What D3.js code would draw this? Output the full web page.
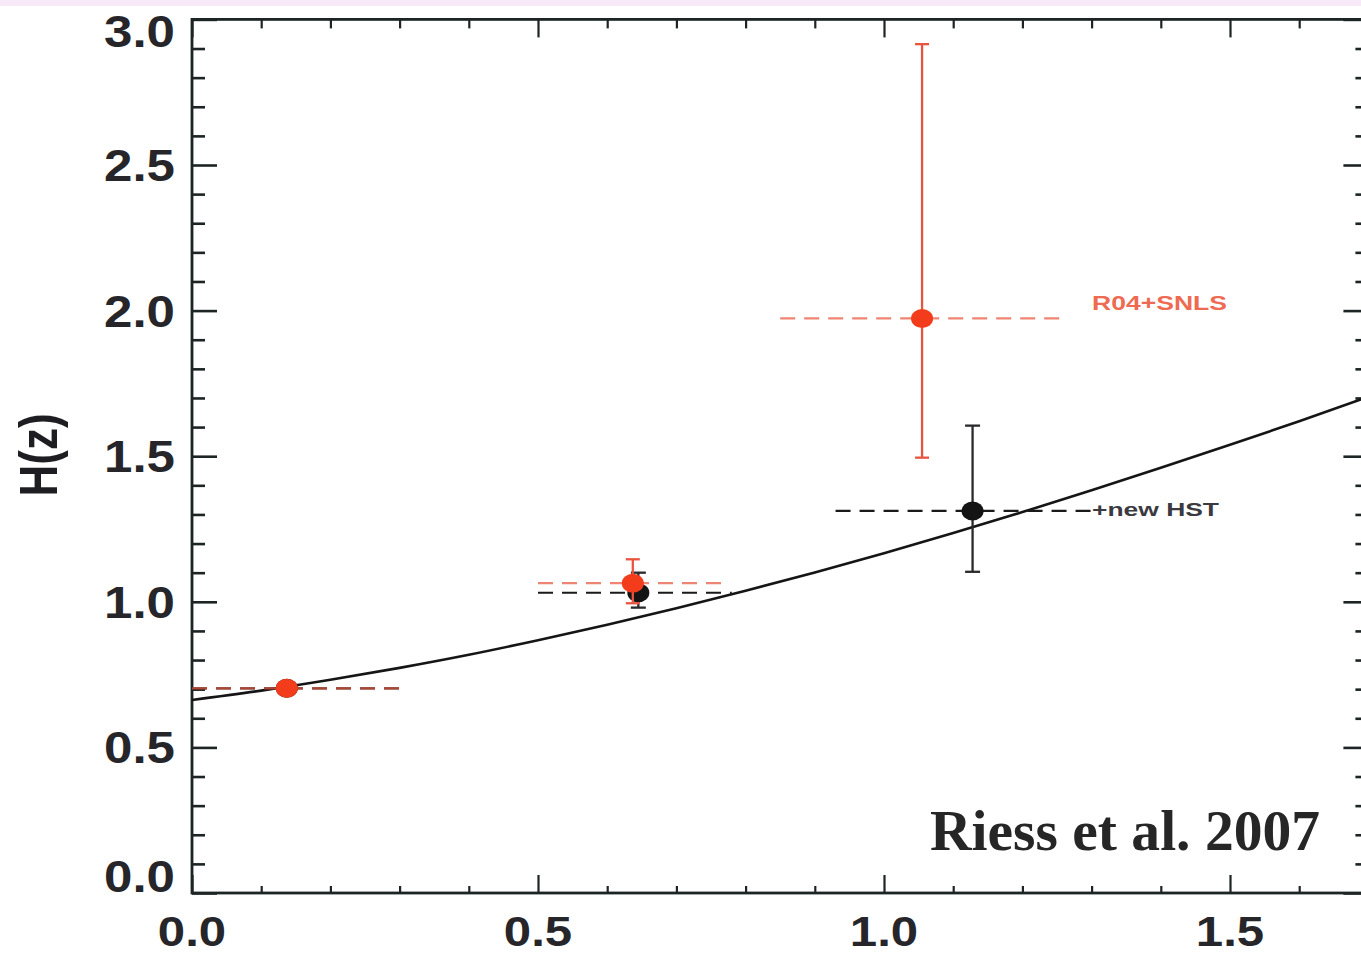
<!DOCTYPE html>
<html>
<head>
<meta charset="utf-8">
<script src="https://cdn.jsdelivr.net/npm/d3@7/dist/d3.min.js"></script>
<style>
  html, body { margin: 0; padding: 0; background: #ffffff; }
  svg { display: block; }
</style>
</head>
<body>
<svg id="chart" width="1361" height="957"></svg>
<script>
// Axis ticks and labels
const zMajor = [0, 0.5, 1.0, 1.5];
const zMinor = [0.1, 0.2, 0.3, 0.4, 0.6, 0.7, 0.8, 0.9, 1.1, 1.2, 1.3, 1.4, 1.6];
const hMajor = [0, 0.5, 1.0, 1.5, 2.0, 2.5, 3.0];
const hMinor = [0.1, 0.2, 0.3, 0.4, 0.6, 0.7, 0.8, 0.9, 1.1, 1.2, 1.3, 1.4,
                1.6, 1.7, 1.8, 1.9, 2.1, 2.2, 2.3, 2.4, 2.6, 2.7, 2.8, 2.9];

// Model expansion history H(z)
const modelZ = [0, 0.1, 0.2, 0.3, 0.4, 0.5, 0.6, 0.7, 0.8, 0.9, 1.0, 1.1, 1.2, 1.3, 1.4, 1.5, 1.6, 1.7];
const modelH = [0.663, 0.695, 0.732, 0.773, 0.818, 0.868, 0.921, 0.978, 1.038, 1.101,
                1.167, 1.236, 1.308, 1.383, 1.460, 1.539, 1.620, 1.704];

// "+new HST" binned measurements (black)
const hstZ    = [0.137, 0.645, 1.128];
const hstH    = [0.703, 1.031, 1.312];
const hstLo   = [0.703, 0.980, 1.103];
const hstHi   = [0.703, 1.100, 1.605];
const hstBinLo = [0.0, 0.50, 0.93];
const hstBinHi = [0.30, 0.78, 1.31];

// "R04+SNLS" binned measurements (red)
const snlsZ    = [0.137, 0.637, 1.055];
const snlsH    = [0.703, 1.064, 1.973];
const snlsLo   = [0.703, 0.995, 1.495];
const snlsHi   = [0.703, 1.146, 2.915];
const snlsBinLo = [0.0, 0.50, 0.85];
const snlsBinHi = [0.30, 0.775, 1.262];

const svg = d3.select("#chart");
const W = 1361, H = 957;

const x = d3.scaleLinear().domain([0, 1.7]).range([192, 1368.4]);
const y = d3.scaleLinear().domain([0, 3]).range([893, 19.4]);

const axisColor = "#1d2424";
const red = "#f23c1c";
const redLine = "#e9543f";
const redText = "#ef6a52";

// faint band along the top edge
svg.append("rect").attr("x", 0).attr("y", 0).attr("width", W).attr("height", 6)
  .attr("fill", "#f7e9f7");

// plot area
svg.append("rect")
  .attr("x", x(0)).attr("y", y(3))
  .attr("width", x(1.7) - x(0)).attr("height", y(0) - y(3))
  .attr("fill", "#ffffff");

const axes = svg.append("g");

function styleAxis(g, width) {
  g.select(".domain").remove();
  g.selectAll(".tick line").attr("stroke", axisColor).attr("stroke-width", width);
  g.selectAll(".tick text").remove();
}

// bottom axis (inward ticks)
axes.append("g").attr("transform", `translate(0,${y(0)})`)
  .call(d3.axisBottom(x).tickValues(zMajor).tickSizeInner(-18).tickSizeOuter(0))
  .call(g => styleAxis(g, 2.2));
axes.append("g").attr("transform", `translate(0,${y(0)})`)
  .call(d3.axisBottom(x).tickValues(zMinor).tickSizeInner(-7).tickSizeOuter(0))
  .call(g => styleAxis(g, 2.2));
// top axis
axes.append("g").attr("transform", `translate(0,${y(3)})`)
  .call(d3.axisTop(x).tickValues(zMajor).tickSizeInner(-18).tickSizeOuter(0))
  .call(g => styleAxis(g, 2.2));
axes.append("g").attr("transform", `translate(0,${y(3)})`)
  .call(d3.axisTop(x).tickValues(zMinor).tickSizeInner(-9).tickSizeOuter(0))
  .call(g => styleAxis(g, 2.2));
// left axis
axes.append("g").attr("transform", `translate(${x(0)},0)`)
  .call(d3.axisLeft(y).tickValues(hMajor).tickSizeInner(-25).tickSizeOuter(0))
  .call(g => styleAxis(g, 2.6));
axes.append("g").attr("transform", `translate(${x(0)},0)`)
  .call(d3.axisLeft(y).tickValues(hMinor).tickSizeInner(-13).tickSizeOuter(0))
  .call(g => styleAxis(g, 2.6));
// right axis
axes.append("g").attr("transform", `translate(${x(1.7)},0)`)
  .call(d3.axisRight(y).tickValues(hMajor).tickSizeInner(-25).tickSizeOuter(0))
  .call(g => styleAxis(g, 2.6));
axes.append("g").attr("transform", `translate(${x(1.7)},0)`)
  .call(d3.axisRight(y).tickValues(hMinor).tickSizeInner(-13).tickSizeOuter(0))
  .call(g => styleAxis(g, 2.6));

// frame
svg.append("rect")
  .attr("x", x(0)).attr("y", y(3))
  .attr("width", x(1.7) - x(0)).attr("height", y(0) - y(3))
  .attr("fill", "none").attr("stroke", axisColor).attr("stroke-width", 2.8);

// tick labels
const fmt = d3.format(".1f");
const labelFont = "'Liberation Sans', Arial, Helvetica, sans-serif";

svg.append("g").selectAll("g").data(hMajor).join("g")
  .attr("transform", d => {
    const cy = Math.max(y(3) + 12, Math.min(y(0) - 17, y(d)));
    return `translate(175,${cy + 16}) scale(1.16,1)`;
  })
  .append("text")
  .attr("text-anchor", "end")
  .attr("font-family", labelFont).attr("font-weight", "bold").attr("font-size", 44)
  .attr("fill", "#26262a")
  .text(d => fmt(d));

svg.append("g").selectAll("g").data(zMajor).join("g")
  .attr("transform", d => `translate(${x(d)},946) scale(1.17,1)`)
  .append("text")
  .attr("text-anchor", "middle")
  .attr("font-family", labelFont).attr("font-weight", "bold").attr("font-size", 42)
  .attr("fill", "#26262a")
  .text(d => fmt(d));

// axis title
svg.append("g").attr("transform", "translate(57,455) scale(1.2,1) rotate(-90)")
  .append("text")
  .attr("text-anchor", "middle")
  .attr("font-family", labelFont).attr("font-weight", "bold").attr("font-size", 44)
  .attr("fill", "#1e1e22")
  .text("H(z)");

// model curve
const modelPts = modelZ.map((z, i) => [z, modelH[i]]);
svg.append("path")
  .datum(modelPts)
  .attr("fill", "none").attr("stroke", "#151515").attr("stroke-width", 2.6)
  .attr("d", d3.line().x(d => x(d[0])).y(d => y(d[1])).curve(d3.curveMonotoneX));

function drawSeries(zs, hs, lo, hi, bLo, bHi, opts) {
  const g = svg.append("g");
  const idx = d3.range(zs.length);
  // redshift bins
  g.selectAll("line.bin").data(idx).join("line").attr("class", "bin")
    .attr("x1", i => x(bLo[i])).attr("x2", i => x(bHi[i]))
    .attr("y1", i => y(hs[i])).attr("y2", i => y(hs[i]))
    .attr("stroke", opts.dash).attr("stroke-width", 2.2)
    .attr("stroke-opacity", opts.dashOpacity)
    .attr("stroke-dasharray", "15,9");
  // vertical error bars
  const withErr = idx.filter(i => hi[i] > lo[i]);
  g.selectAll("line.err").data(withErr).join("line").attr("class", "err")
    .attr("x1", i => x(zs[i])).attr("x2", i => x(zs[i]))
    .attr("y1", i => y(lo[i])).attr("y2", i => y(hi[i]))
    .attr("stroke", opts.err).attr("stroke-width", 2.3);
  ["lo", "hi"].forEach(k => {
    g.selectAll("line.cap" + k).data(withErr).join("line").attr("class", "cap" + k)
      .attr("x1", i => x(zs[i]) - opts.cap).attr("x2", i => x(zs[i]) + opts.cap)
      .attr("y1", i => y(k === "lo" ? lo[i] : hi[i]))
      .attr("y2", i => y(k === "lo" ? lo[i] : hi[i]))
      .attr("stroke", opts.err).attr("stroke-width", 2.3);
  });
  // points
  g.selectAll("ellipse").data(idx).join("ellipse")
    .attr("cx", i => x(zs[i])).attr("cy", i => y(hs[i]))
    .attr("rx", 11).attr("ry", 9.5)
    .attr("fill", opts.dot);
}

drawSeries(hstZ, hstH, hstLo, hstHi, hstBinLo, hstBinHi,
  { dash: "#1a1a1a", dashOpacity: 1, err: "#2a2a2e", dot: "#141414", cap: 7.5 });
drawSeries(snlsZ, snlsH, snlsLo, snlsHi, snlsBinLo, snlsBinHi,
  { dash: "#e8553c", dashOpacity: 0.72, err: redLine, dot: red, cap: 7 });

// series labels
svg.append("text")
  .attr("x", 1092).attr("y", 310)
  .attr("font-family", labelFont).attr("font-weight", "bold").attr("font-size", 21)
  .attr("textLength", 135).attr("lengthAdjust", "spacingAndGlyphs")
  .attr("fill", redText)
  .text("R04+SNLS");

svg.append("text")
  .attr("x", 1092).attr("y", 516)
  .attr("font-family", labelFont).attr("font-weight", "bold").attr("font-size", 19)
  .attr("textLength", 127).attr("lengthAdjust", "spacingAndGlyphs")
  .attr("fill", "#3a3a40")
  .text("+new HST");

// citation
svg.append("text")
  .attr("x", 930).attr("y", 850)
  .attr("font-family", "'Liberation Serif', 'Times New Roman', serif")
  .attr("font-weight", "bold").attr("font-size", 56)
  .attr("textLength", 390).attr("lengthAdjust", "spacingAndGlyphs")
  .attr("fill", "#262626")
  .text("Riess et al. 2007");
</script>
</body>
</html>
